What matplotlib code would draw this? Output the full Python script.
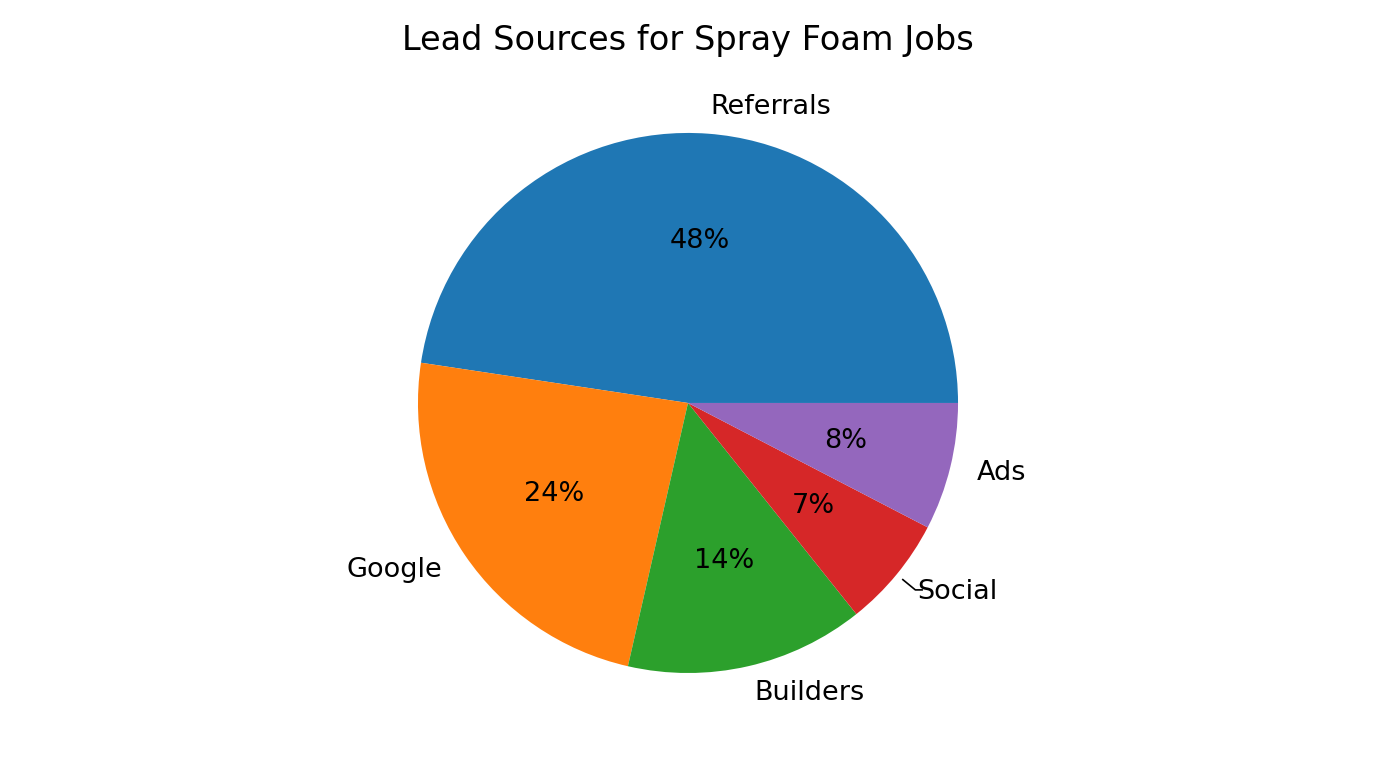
import numpy as np
import matplotlib.pyplot as plt

# Lead source counts
sources = ['Referrals', 'Google', 'Builders', 'Social', 'Ads']
leads = [50, 25, 15, 7, 8]
colors = ['#1f77b4', '#ff7f0e', '#2ca02c', '#d62728', '#9467bd']

fig = plt.figure(figsize=(13.76, 7.68), dpi=100)
ax = fig.add_axes([0.2547, 0.0358, 0.4906, 0.879])

wedges, texts, autotexts = ax.pie(leads, labels=sources, colors=colors,
                                  autopct='%1.0f%%', startangle=0,
                                  textprops={'fontsize': 19.5})

# little leader line for the Social label
w = wedges[3]
mid = np.deg2rad((w.theta1 + w.theta2) / 2)
r0, r1 = 1.03, 1.09
x0, y0 = r0 * np.cos(mid), r0 * np.sin(mid)
x1, y1 = r1 * np.cos(mid), r1 * np.sin(mid)
ax.plot([x0, x1, x1 + 0.025], [y0, y1, y1], color='black', lw=1.2)

fig.text(0.5, 0.935, 'Lead Sources for Spray Foam Jobs', ha='center',
         va='baseline', fontsize=24.2)

plt.savefig('out.png', dpi=100)
